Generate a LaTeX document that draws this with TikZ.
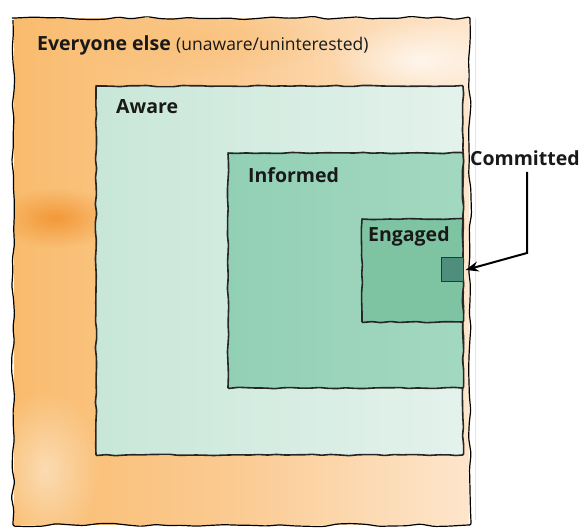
\documentclass[tikz,border=0pt]{standalone}
\usepackage{fontspec}
\setmainfont{Open Sans}
\usetikzlibrary{decorations.pathmorphing,fadings,arrows.meta}
\definecolor{orA}{HTML}{F9BC6E}
\definecolor{orB}{HTML}{FBCB93}
\definecolor{orC}{HTML}{FDE6CC}
\definecolor{orD}{HTML}{F2922E}
\definecolor{awA}{HTML}{C8E7D8}
\definecolor{awB}{HTML}{E4F2EC}
\definecolor{inA}{HTML}{92D0B5}
\definecolor{inB}{HTML}{A3D8C0}
\definecolor{enA}{HTML}{7FC4A2}
\definecolor{cmA}{HTML}{4F8E7C}
\tikzfading[name=blob, inner color=transparent!0, outer color=transparent!100]
\tikzset{
  rough/.style={decorate, decoration={random steps, segment length=9pt, amplitude=0.7pt}, line width=1.6pt, draw=black!85, rounded corners=1pt},
  rougher/.style={decorate, decoration={random steps, segment length=14pt, amplitude=1.6pt}, line width=1.2pt, draw=black, rounded corners=2pt},
  lbl/.style={font=\bfseries\fontsize{19.5}{22}\selectfont, anchor=west, inner sep=0pt, text=black!90},
  sublbl/.style={font=\fontsize{17.5}{19}\selectfont, anchor=base west, inner sep=0pt, text=black!90},
}
\begin{document}
\begin{tikzpicture}[x=1pt,y=-1pt]
\pgfmathsetseed{7}
\useasboundingbox (0,0) rectangle (584,529);
\fill[white] (0,0) rectangle (584,529);
% faint scan edge
\draw[black!10, line width=0.8pt] (475,18) -- (475,520);
% outer region
\begin{scope}
\clip (14,19) rectangle (469,524);
\shade[left color=orA, right color=orC, middle color=orB] (13,18) rectangle (470,525);
\fill[orD, path fading=blob, opacity=0.85] (55,218) ellipse (60pt and 30pt);
\fill[white, path fading=blob, opacity=0.7] (420,60) ellipse (90pt and 40pt);
\fill[white, path fading=blob, opacity=0.45] (45,470) ellipse (55pt and 80pt);
\fill[orA, path fading=blob, opacity=0.5] (200,40) ellipse (130pt and 35pt);
\end{scope}
\draw[rougher] (13,18) rectangle (470,525);
% aware
\shade[left color=awA, right color=awB] (96,86) rectangle (463,455);
\draw[rough] (96,86) rectangle (463,455);
% informed
\shade[left color=inA, right color=inB] (228,153) rectangle (463,388);
\draw[rough] (228,153) rectangle (463,388);
% engaged
\fill[enA] (362,219) rectangle (463,322);
\draw[rough] (362,219) rectangle (463,322);
% committed
\node[draw=black!80, line width=1pt, fill=cmA, minimum width=22pt, minimum height=24pt, inner sep=0pt] (cm) at (452,270) {};
% labels
\node[lbl] (ev) at (37,45) {Everyone else};
\node[sublbl] (un) at ([xshift=5pt]ev.base east) {(unaware/uninterested)};
\node[lbl] (aw) at (116,107) {Aware};
\node[lbl] (inf) at (248,175) {Informed};
\node[lbl] (eng) at (368,236) {Engaged};
\node[lbl] (com) at (470,158) {Committed};
\coordinate (bend) at (527,253);
\draw[line width=2pt, -{Stealth[length=13pt,width=10pt]}] (527,172) -- (bend) -- ([xshift=2pt]cm.east);
\end{tikzpicture}
\end{document}
